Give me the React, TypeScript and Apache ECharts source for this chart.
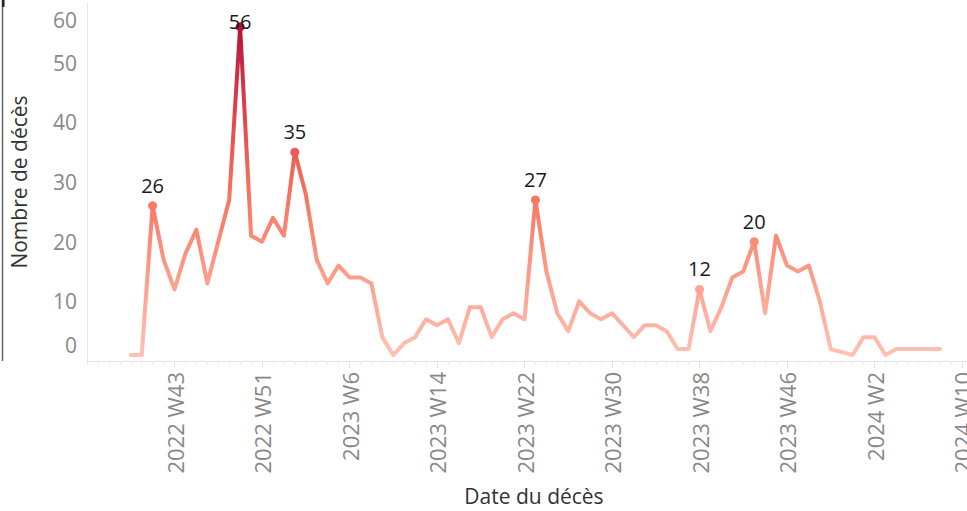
import React, { useEffect, useRef } from 'react';
import * as echarts from 'echarts';

// Week categories (Tableau week numbering: 2022 has W53, 2023 ends at W52)
const weekRanges: [number, number, number][] = [
  [2022, 35, 53],
  [2023, 1, 52],
  [2024, 1, 11],
];
const weeks: string[] = weekRanges.flatMap(([y, a, b]) =>
  Array.from({ length: b - a + 1 }, (_, k) => `${y} W${a + k}`)
);

const tickLabels = [
  '2022 W43', '2022 W51', '2023 W6', '2023 W14', '2023 W22',
  '2023 W30', '2023 W38', '2023 W46', '2024 W2', '2024 W10',
];

const firstDataWeek = '2022 W39';
// Weekly number of deaths from 2022 W39 to 2024 W8 (null = no record that week)
const deaths: (number | null)[] = [
  1, 1, 26, 17, 12, 18, 22, 13, 20, 27,
  56, 21, 20, 24, 21, 35, 28, 17, 13, 16,
  14, 14, 13, 4, 1, 3, 4, 7, 6, 7,
  3, 9, 9, 4, 7, 8, 7, 27, 15, 8,
  5, 10, 8, 7, 8, 6, 4, 6, 6, 5,
  2, 2, 12, 5, 9, 14, 15, 20, 8, 21,
  16, 15, 16, 10, 2, null, 1, 4, 4, 1,
  2, 2, 2, 2, 2,
];

const annotatedWeeks = ['2022 W41', '2022 W49', '2023 W1', '2023 W23', '2023 W38', '2023 W43'];

const yTicks = { min: 0, max: 60, interval: 10 };

const FONT = '"Open Sans", "Noto Sans", sans-serif';

export default function App() {
  const ref = useRef<HTMLDivElement>(null);
  useEffect(() => {
    const chart = echarts.init(ref.current!, null, { renderer: 'svg' });
    const start = weeks.indexOf(firstDataWeek);
    const present = deaths.filter((d) => d !== null) as number[];
    const maxVal = Math.max(...present);
    const minVal = Math.min(...present);
    const seriesData = weeks.map((w, i) => {
      const k = i - start;
      const v = k >= 0 && k < deaths.length ? deaths[k] : null;
      if (v === null) return '-';
      if (annotatedWeeks.includes(w)) {
        return {
          value: v,
          symbol: 'circle',
          symbolSize: 9,
          label:
            v === maxVal
              ? { show: true, position: 'inside', offset: [0, -5] }
              : { show: true, position: 'top', distance: 6 },
        };
      }
      return { value: v, symbol: 'none' };
    });
    const tickSet = new Set(tickLabels);
    const gridBox = { left: 87, top: 3, bottom: 150, right: 0 };

    chart.setOption({
      animation: false,
      graphic: [
        { type: 'line', shape: { x1: 2.5, y1: 0, x2: 2.5, y2: 361 }, style: { stroke: '#666', lineWidth: 1.5 } },
        { type: 'rect', shape: { x: 2, y: 0, width: 2.5, height: 7 }, style: { fill: '#222' } },
      ],
      grid: [gridBox, gridBox],
      visualMap: {
        type: 'continuous',
        show: false,
        seriesIndex: 0,
        min: minVal,
        max: maxVal,
        inRange: { color: ['#ffc1b3', '#fd9c88', '#f5735f', '#e04049', '#b0173f'] },
      },
      xAxis: [
        {
          type: 'category',
          gridIndex: 0,
          data: weeks,
          boundaryGap: false,
          axisLine: { show: true, lineStyle: { color: '#e6e6e6', width: 1 } },
          axisTick: {
            show: true,
            interval: (_i: number, v: string) => tickSet.has(v),
            length: 7,
            lineStyle: { color: '#e3e3e3' },
          },
          axisLabel: {
            interval: (_i: number, v: string) => tickSet.has(v),
            rotate: 90,
            margin: 11,
            fontSize: 22,
            color: '#888888',
            fontFamily: FONT,
          },
          splitLine: { show: false },
          name: 'Date du décès',
          nameLocation: 'middle',
          nameGap: 124,
          nameTextStyle: { fontSize: 21, color: '#333333', fontFamily: FONT, padding: [0, 0, 0, 8] },
        },
        {
          type: 'category',
          gridIndex: 1,
          data: weeks,
          boundaryGap: false,
          axisLine: { show: false },
          axisTick: { show: true, interval: 0, length: 3, lineStyle: { color: '#e6e6e6' } },
          axisLabel: { show: false },
          splitLine: { show: false },
        },
      ],
      yAxis: [
        {
          type: 'value',
          gridIndex: 0,
          min: yTicks.min,
          max: yTicks.max,
          interval: yTicks.interval,
          axisLine: { show: true, lineStyle: { color: '#e8e8e8', width: 1 } },
          axisTick: { show: false },
          splitLine: { show: false },
          axisLabel: {
            margin: 10,
            fontSize: 21,
            color: '#888888',
            fontFamily: FONT,
            formatter: (v: number) =>
              v === yTicks.min ? `{lo|${v}}` : v === yTicks.max ? `{hi|${v}}` : `${v}`,
            rich: {
              lo: { fontSize: 21, color: '#888888', fontFamily: FONT, padding: [0, 0, 32, 0] },
              hi: { fontSize: 21, color: '#888888', fontFamily: FONT, padding: [34, 0, 0, 0] },
            },
          },
          name: 'Nombre de décès',
          nameLocation: 'middle',
          nameGap: 58,
          nameRotate: 90,
          nameTextStyle: { fontSize: 21, color: '#333333', fontFamily: FONT },
        },
        { type: 'value', gridIndex: 1, show: false, min: yTicks.min, max: yTicks.max },
      ],
      series: [
        {
          type: 'line',
          xAxisIndex: 0,
          yAxisIndex: 0,
          data: seriesData,
          connectNulls: true,
          showAllSymbol: true,
          symbol: 'none',
          lineStyle: { width: 4, cap: 'round', join: 'round' },
          label: { show: false, fontSize: 20, color: '#1a1a1a', fontFamily: FONT },
          emphasis: { disabled: true },
        },
      ],
    });
    return () => chart.dispose();
  }, []);
  return (
    <div
      style={{ position: 'absolute', left: 0, top: 0, width: 967, height: 511, overflow: 'hidden', background: '#fff' }}
    >
      <div ref={ref} style={{ width: 973, height: 511 }} />
    </div>
  );
}
